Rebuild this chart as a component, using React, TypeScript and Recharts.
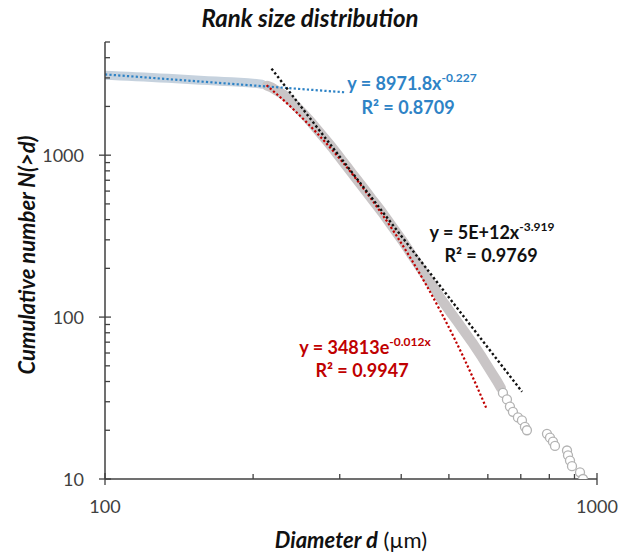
import React from 'react';
import { ComposedChart, Line, Scatter, XAxis, YAxis } from 'recharts';

// ---- Data ----
// Flat part of the rank-size curve (fitted by the blue power law)
const flatD = [100, 103.3, 107.3, 111.4, 115.6, 120.0, 124.6, 129.3, 134.3, 139.4, 144.7, 150.2, 156.0, 161.9, 168.1, 174.5, 181.1, 188.1, 195.2, 202.7, 208.5];
const flatN = [3117, 3105, 3087, 3069, 3052, 3035, 3017, 3000, 2983, 2966, 2945, 2924, 2904, 2887, 2871, 2855, 2839, 2822, 2802, 2775, 2744];

// Steep part (fitted by the red exponential and black power law)
const steepD = [213.4, 218.5, 223.6, 228.9, 234.4, 239.9, 245.6, 251.4, 257.4, 263.4, 269.7, 276.1, 282.6, 289.3, 296.1, 303.1, 310.3, 317.7, 325.2, 332.9, 340.8, 348.8, 357.1, 365.5, 374.2, 383.0, 392.1, 401.4, 410.9, 420.6, 430.6, 440.8, 451.2, 461.9, 472.8, 484.0, 495.5, 507.2, 519.2, 531.5, 544.1, 557.0, 570.1, 583.6, 597.5, 611.6, 626.1, 637.9];
const steepN = [2685, 2610, 2501, 2397, 2280, 2124, 1979, 1843, 1704, 1576, 1447, 1329, 1220, 1120, 1022, 931, 849, 774, 706, 644, 587, 535, 488, 445, 403, 365, 330, 299, 269, 241, 217, 195, 175, 158, 142, 127, 115, 104, 94.5, 85.5, 77.4, 70.1, 63.0, 56.6, 50.5, 45.1, 40.3, 36.5];

// Sparse tail (largest grains)
const tailD = [643.9, 656.1, 665.3, 674.7, 690.7, 703.8, 713.7, 720.4, 791.3, 802.5, 813.8, 821.5, 869.0, 873.1, 881.3, 889.6, 923.5, 936.6];
const tailN = [34, 31, 28, 26, 24, 23, 21, 20, 19, 18, 17, 16, 15, 14, 13, 12, 11, 10];

// Trend lines (equations as printed on the chart)
const bluePow = { a: 8971.8, b: -0.227 };
const blackPow = { a: 5e12, b: -3.919 };
const redExp = { a: 34813, b: -0.012 };
const blueX = [100, 307];
const blackX = [218, 704];
const redX = [213, 240, 270, 300, 330, 360, 390, 420, 450, 480, 510, 540, 570, 595];

// Axis ticks
const xTicks = [100, 200, 300, 400, 500, 600, 700, 800, 900, 1000];
const yTicks = [10, 20, 30, 40, 50, 60, 70, 80, 90, 100, 200, 300, 400, 500, 600, 700, 800, 900, 1000, 2000, 3000, 4000, 5000];
const xMajor = [100, 1000];
const yMajor = [10, 100, 1000];

const zip = (xs: number[], ys: number[]) => xs.map((x, i) => ({ x, y: ys[i] }));
const flatData = zip(flatD, flatN);
const steepData = zip(steepD, steepN);
const tailData = zip(tailD, tailN);
const blueData = blueX.map((x) => ({ x, y: bluePow.a * Math.pow(x, bluePow.b) }));
const blackData = blackX.map((x) => ({ x, y: blackPow.a * Math.pow(x, blackPow.b) }));
const redData = redX.map((x) => ({ x, y: redExp.a * Math.exp(redExp.b * x) }));

const FONT = 'Lato, "Open Sans", sans-serif';
const AXIS = '#404040';
const BLUE = '#2e83c6';
const RED = '#c00000';
const FLAT = '#c6d2de';
const STEEP = '#c9c5c6';

const XTick = (props: any) => {
  const { x, y, payload } = props;
  const v = payload.value;
  const major = xMajor.includes(v);
  return (
    <g>
      <line x1={x} x2={x} y1={major ? y - 6 : y - 5} y2={major ? y + 6 : y} stroke={AXIS} strokeWidth={1.3} />
      {major && (
        <text x={x} y={y + 34} textAnchor="middle" fontSize={18} fill={AXIS} fontFamily={FONT}>
          {v}
        </text>
      )}
    </g>
  );
};

const YTick = (props: any) => {
  const { x, y, payload } = props;
  const v = payload.value;
  const major = yMajor.includes(v);
  return (
    <g>
      <line x1={major ? x - 6 : x} x2={major ? x + 6 : x + 5} y1={y} y2={y} stroke={AXIS} strokeWidth={1.3} />
      {major && (
        <text x={x - 21} y={y + 6.5} textAnchor="end" fontSize={18} fill={AXIS} fontFamily={FONT}>
          {v}
        </text>
      )}
    </g>
  );
};

const dot = (r: number, fill: string, stroke: string, sw: number) => (p: any) =>
  <circle cx={p.cx} cy={p.cy} r={r} fill={fill} stroke={stroke} strokeWidth={sw} />;

const sup: React.CSSProperties = { fontSize: 12, position: 'relative', top: -8 };

const Eq = ({ cx, cy, color, children }: { cx: number; cy: number; color: string; children: React.ReactNode }) => (
  <div
    style={{
      position: 'absolute',
      left: cx - 120,
      top: cy - 11,
      width: 240,
      textAlign: 'center',
      fontFamily: FONT,
      fontWeight: 700,
      fontSize: 18,
      lineHeight: '22px',
      color,
      whiteSpace: 'nowrap',
    }}
  >
    {children}
  </div>
);

export default function App() {
  return (
    <div style={{ position: 'absolute', left: 0, top: 0, width: 620, height: 552, background: '#fff', overflow: 'hidden' }}>
      <ComposedChart width={620} height={552} margin={{ top: 42, right: 23, bottom: 43, left: 45 }}>
        <XAxis
          dataKey="x"
          type="number"
          scale="log"
          domain={[100, 1000]}
          ticks={xTicks}
          interval={0}
          allowDataOverflow
          height={30}
          tickSize={0}
          tickMargin={0}
          tickLine={false}
          axisLine={{ stroke: AXIS, strokeWidth: 1.5 }}
          tick={<XTick />}
        />
        <YAxis
          dataKey="y"
          type="number"
          scale="log"
          domain={[10, 5000]}
          ticks={yTicks}
          interval={0}
          allowDataOverflow
          width={60}
          tickSize={0}
          tickMargin={0}
          tickLine={false}
          axisLine={{ stroke: AXIS, strokeWidth: 1.5 }}
          tick={<YTick />}
        />
        <Line data={flatData} dataKey="y" type="linear" stroke={FLAT} strokeWidth={9} strokeLinecap="round" strokeLinejoin="round" dot={false} activeDot={false} isAnimationActive={false} />
        <Line data={steepData} dataKey="y" type="linear" stroke={STEEP} strokeWidth={10} strokeLinecap="round" strokeLinejoin="round" dot={false} activeDot={false} isAnimationActive={false} />
        <Line data={blueData} dataKey="y" type="linear" stroke={BLUE} strokeWidth={2.2} strokeDasharray="2.2 2.2" dot={false} activeDot={false} isAnimationActive={false} />
        <Line data={redData} dataKey="y" type="monotone" stroke={RED} strokeWidth={2.2} strokeDasharray="2.2 2.2" dot={false} activeDot={false} isAnimationActive={false} />
        <Line data={blackData} dataKey="y" type="linear" stroke="#111" strokeWidth={2.4} strokeDasharray="2.4 2.4" dot={false} activeDot={false} isAnimationActive={false} />
        <Scatter data={tailData} dataKey="y" shape={dot(4.5, '#ffffff', '#b3b3b3', 1.3)} isAnimationActive={false} />
      </ComposedChart>

      {/* Chart title */}
      <div style={{ position: 'absolute', left: 110, top: 4, width: 400, textAlign: 'center', fontFamily: FONT, fontWeight: 700, fontStyle: 'italic', fontSize: 24, lineHeight: '28px', color: '#111' }}>
        Rank size distribution
      </div>

      {/* Y axis title */}
      <div
        style={{
          position: 'absolute',
          left: 27 - 150,
          top: 255 - 13,
          width: 300,
          textAlign: 'center',
          transform: 'rotate(-90deg)',
          fontFamily: FONT,
          fontWeight: 700,
          fontStyle: 'italic',
          fontSize: 22,
          lineHeight: '26px',
          color: '#111',
          whiteSpace: 'nowrap',
        }}
      >
        Cumulative number N(&gt;d)
      </div>

      {/* X axis title */}
      <div style={{ position: 'absolute', left: 351 - 150, top: 540 - 13, width: 300, textAlign: 'center', fontFamily: FONT, fontSize: 22, lineHeight: '26px', color: '#111', whiteSpace: 'nowrap' }}>
        <span style={{ fontWeight: 700, fontStyle: 'italic' }}>Diameter d</span> (µm)
      </div>

      {/* Trend line equations */}
      <Eq cx={412} cy={83} color={BLUE}>
        y = 8971.8x<span style={sup}>-0.227</span>
      </Eq>
      <Eq cx={408} cy={107} color={BLUE}>
        R² = 0.8709
      </Eq>
      <Eq cx={492} cy={232} color="#111">
        y = 5E+12x<span style={sup}>-3.919</span>
      </Eq>
      <Eq cx={491} cy={255} color="#111">
        R² = 0.9769
      </Eq>
      <Eq cx={365} cy={347} color={RED}>
        y = 34813e<span style={sup}>-0.012x</span>
      </Eq>
      <Eq cx={362} cy={370} color={RED}>
        R² = 0.9947
      </Eq>
    </div>
  );
}
